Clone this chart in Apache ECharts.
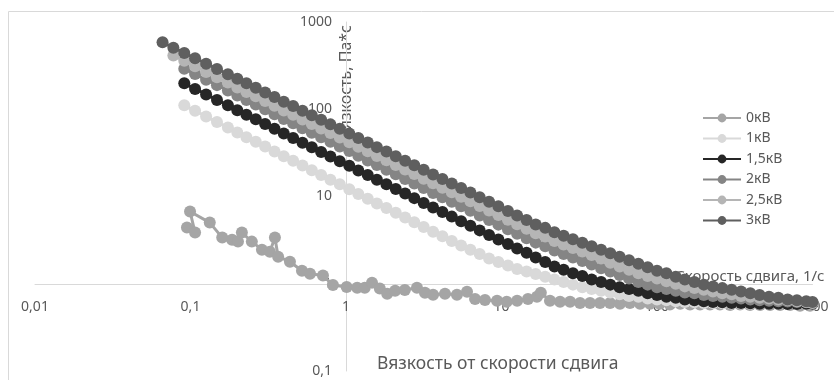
<!DOCTYPE html>
<html>
<head>
<meta charset="utf-8">
<script src="https://cdn.jsdelivr.net/npm/echarts@6/dist/echarts.min.js"></script>
<style>
html,body{margin:0;padding:0;background:#fff;}
#chart{width:834px;height:380px;}
</style>
</head>
<body>
<div id="chart"></div>
<script>
// ---- data ----
const seriesNames = ['0кВ', '1кВ', '1,5кВ', '2кВ', '2,5кВ', '3кВ'];

// shear rate, 1/s (shared grid for 1..3 kV)
const shearRate = [0.0661, 0.0776, 0.0912, 0.107, 0.126, 0.148, 0.174, 0.200, 0.229, 0.263,
  0.302, 0.347, 0.398, 0.457, 0.525, 0.603, 0.692, 0.794, 0.912, 1.05,
  1.20, 1.38, 1.58, 1.82, 2.09, 2.40, 2.75, 3.16, 3.63, 4.17,
  4.79, 5.50, 6.31, 7.24, 8.32, 9.55, 11.0, 12.6, 14.5, 16.6,
  19.1, 21.9, 25.1, 28.8, 33.1, 38.0, 43.7, 50.1, 57.5, 66.1,
  75.9, 87.1, 100, 115, 132, 151, 174, 200, 229, 263,
  302, 347, 398, 457, 525, 603, 692, 794, 912, 1000];

const visc3kV = [585, 508, 442, 384, 333, 290, 252, 223, 198, 176,
  156, 138, 122, 109, 96.3, 85.4, 75.7, 67.1, 59.6, 52.8,
  46.8, 41.5, 36.8, 32.7, 29.0, 25.7, 22.8, 20.2, 17.9, 15.9,
  14.1, 12.5, 11.1, 9.82, 8.71, 7.71, 6.84, 6.07, 5.38, 4.79,
  4.37, 3.89, 3.55, 3.24, 2.95, 2.69, 2.45, 2.24, 2.04, 1.86,
  1.70, 1.55, 1.41, 1.32, 1.20, 1.12, 1.05, 0.977, 0.933, 0.891,
  0.851, 0.813, 0.776, 0.741, 0.708, 0.692, 0.661, 0.646, 0.631, 0.617];

const visc25kV = [null, 413, 359, 311, 268, 232, 202, 178, 158, 141,
  124, 110, 96.9, 86.5, 76.5, 67.8, 60.1, 53.3, 47.3, 41.9,
  37.2, 33.0, 29.2, 26.0, 23.0, 20.4, 18.1, 16.0, 14.2, 12.6,
  11.2, 9.93, 8.81, 7.80, 6.92, 6.12, 5.43, 4.82, 4.27, 3.80,
  3.47, 3.09, 2.82, 2.57, 2.34, 2.14, 1.95, 1.74, 1.58, 1.45,
  1.32, 1.23, 1.15, 1.07, 1.00, 0.933, 0.891, 0.851, 0.813, 0.776,
  0.759, 0.724, 0.708, 0.692, 0.676, 0.661, 0.646, 0.631, 0.617, 0.603];

const visc2kV = [null, null, 292, 253, 218, 189, 164, 144, 128, 113,
  99.8, 87.9, 77.5, 69.0, 60.7, 53.8, 47.7, 42.3, 37.5, 33.3,
  29.4, 25.9, 23.0, 20.3, 18.0, 15.9, 14.1, 12.5, 11.0, 9.81,
  8.70, 7.71, 6.85, 6.06, 5.37, 4.76, 4.22, 3.75, 3.32, 2.96,
  2.69, 2.40, 2.19, 2.00, 1.82, 1.66, 1.51, 1.38, 1.26, 1.15,
  1.05, 0.977, 0.912, 0.871, 0.832, 0.794, 0.776, 0.741, 0.724, 0.708,
  0.692, 0.676, 0.661, 0.646, 0.640, 0.631, 0.625, 0.617, 0.612, 0.603];

const visc15kV = [null, null, 198, 171, 148, 128, 111, 97.5, 86.5, 76.6,
  67.9, 59.6, 52.7, 46.9, 41.4, 36.6, 32.4, 28.7, 25.4, 22.5,
  19.9, 17.6, 15.6, 13.8, 12.2, 10.8, 9.58, 8.42, 7.46, 6.63,
  5.88, 5.21, 4.63, 4.09, 3.63, 3.22, 2.85, 2.53, 2.27, 2.00,
  1.78, 1.58, 1.45, 1.32, 1.23, 1.12, 1.05, 0.977, 0.912, 0.871,
  0.832, 0.776, 0.741, 0.708, 0.692, 0.661, 0.646, 0.631, 0.617, 0.612,
  0.603, 0.600, 0.598, 0.589, 0.589, 0.589, 0.586, 0.586, 0.589, 0.589];

const visc1kV = [null, null, 111, 96.0, 82.6, 71.3, 61.7, 54.2, 47.9, 42.4,
  37.4, 32.8, 28.9, 25.7, 22.6, 20.0, 17.6, 15.6, 13.8, 12.1,
  10.7, 9.42, 8.32, 7.36, 6.50, 5.73, 5.06, 4.46, 3.94, 3.50,
  3.09, 2.74, 2.45, 2.19, 1.95, 1.78, 1.62, 1.48, 1.38, 1.29,
  1.20, 1.12, 1.05, 0.977, 0.912, 0.871, 0.832, 0.794, 0.759, 0.724,
  0.708, 0.676, 0.661, 0.646, 0.631, 0.617, 0.612, 0.603, 0.600, 0.598,
  0.595, 0.593, 0.590, 0.589, 0.588, 0.587, 0.586, 0.585, 0.585, 0.584];

// 0 kV has its own (noisy) measurement points, in measured order
const shearRate0kV = [0.0949, 0.107, 0.0993, 0.133, 0.160, 0.185, 0.202, 0.214, 0.248, 0.288,
  0.324, 0.349, 0.366, 0.436, 0.521, 0.587, 0.711, 0.824, 1.01, 1.18,
  1.32, 1.47, 1.65, 1.84, 2.07, 2.39, 2.86, 3.22, 3.63, 4.33,
  5.17, 6.00, 6.76, 7.83, 9.36, 10.8, 12.6, 14.8, 16.9, 17.9,
  20.5, 23.8, 27.6, 32.0, 37.1, 43.0, 49.9, 57.8, 67.0, 77.8,
  90.2, 104, 121, 141, 163, 189, 219, 254, 295, 342,
  396, 460, 533, 618, 717, 831, 964];
const visc0kV = [4.40, 3.86, 6.73, 5.02, 3.38, 3.20, 3.04, 3.86, 3.04, 2.46,
  2.33, 3.38, 2.04, 1.79, 1.41, 1.30, 1.24, 0.97, 0.92, 0.90,
  0.90, 1.03, 0.88, 0.77, 0.83, 0.85, 0.90, 0.79, 0.75, 0.77,
  0.75, 0.81, 0.67, 0.65, 0.64, 0.62, 0.64, 0.67, 0.71, 0.79,
  0.64, 0.62, 0.62, 0.60, 0.60, 0.60, 0.60, 0.59, 0.60, 0.59,
  0.59, 0.59, 0.58, 0.59, 0.58, 0.58, 0.58, 0.58, 0.57, 0.58,
  0.57, 0.57, 0.57, 0.57, 0.57, 0.56, 0.56];

const xTicks = ['0,01', '0,1', '1', '10', '100', '1000'];
const yTicks = ['0,1', '1', '10', '100', '1000'];

// ---- build ----
const seriesColors = ['#a5a5a5', '#d9d9d9', '#262626', '#858585', '#b5b5b5', '#5f5f5f'];
const rates = [shearRate0kV, shearRate, shearRate, shearRate, shearRate, shearRate];
const viscs = [visc0kV, visc1kV, visc15kV, visc2kV, visc25kV, visc3kV];

function pairs(xs, ys) {
  const out = [];
  for (let i = 0; i < ys.length; i++) if (ys[i] != null) out.push([xs[i], ys[i]]);
  return out;
}
function fmt(v) {
  return String(Number(Number(v).toPrecision(6))).replace('.', ',');
}

const FONT = 'Noto Sans';
const TXT = '#595959';

const chart = echarts.init(document.getElementById('chart'), null, {renderer: 'canvas'});
chart.setOption({
  animation: false,
  textStyle: {fontFamily: FONT},
  graphic: [{
    type: 'rect', silent: true, z: -10,
    shape: {x: 8.5, y: 11.5, width: 840, height: 400},
    style: {fill: 'none', stroke: '#d9d9d9', lineWidth: 1}
  }],
  title: {
    text: 'Вязкость от скорости сдвига',
    left: 372, top: 350,
    textStyle: {fontFamily: FONT, fontSize: 17.5, fontWeight: 'normal', color: TXT}
  },
  legend: {
    orient: 'vertical', left: 697, top: 106,
    itemWidth: 38, itemHeight: 11, itemGap: 6.5,
    data: seriesNames,
    textStyle: {fontFamily: FONT, fontSize: 14, color: TXT, lineHeight: 14}
  },
  grid: {left: 35, right: 21.5, top: 22, bottom: 9, containLabel: false},
  xAxis: {
    type: 'log', logBase: 10, min: 0.01, max: 1000,
    position: 'bottom', offset: -87,
    axisLine: {lineStyle: {color: '#d9d9d9', width: 1}},
    axisTick: {show: false},
    splitLine: {show: false},
    axisLabel: {color: TXT, fontSize: 14, margin: 16, fontFamily: FONT,
      formatter: v => xTicks.indexOf(fmt(v)) >= 0 ? fmt(v) : ''},
    name: 'Скорость сдвига, 1/с', nameLocation: 'end', nameGap: 12,
    nameTextStyle: {align: 'right', verticalAlign: 'bottom', fontSize: 15, color: TXT, fontFamily: FONT}
  },
  yAxis: {
    type: 'log', logBase: 10, min: 0.1, max: 1000,
    position: 'left', offset: -311,
    axisLine: {lineStyle: {color: '#d9d9d9', width: 1}},
    axisTick: {show: false},
    splitLine: {show: false},
    axisLabel: {color: TXT, fontSize: 14, margin: 14, fontFamily: FONT,
      formatter: v => yTicks.indexOf(fmt(v)) >= 0 ? fmt(v) : ''},
    name: 'Вязкость, Па*с', nameLocation: 'end', nameGap: -3, nameRotate: 90,
    nameTextStyle: {align: 'right', verticalAlign: 'middle', padding: [80, 0, 0, 0],
      fontSize: 16, color: TXT, fontFamily: FONT}
  },
  series: seriesNames.map((name, k) => ({
    name: name,
    type: 'line',
    data: pairs(rates[k], viscs[k]),
    symbol: 'circle',
    symbolSize: 12,
    showSymbol: true,
    showAllSymbol: true,
    lineStyle: {width: 3, color: seriesColors[k]},
    itemStyle: {color: seriesColors[k]},
    z: 2 + k
  }))
});
</script>
</body>
</html>
